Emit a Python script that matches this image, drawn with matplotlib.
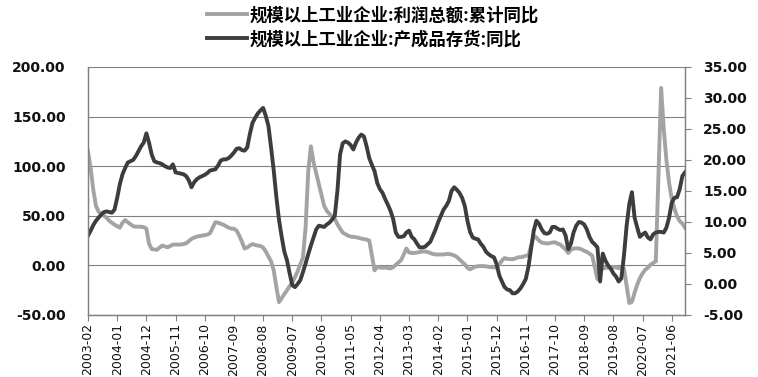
import numpy as np
import pandas as pd
import matplotlib
matplotlib.use('Agg')
import matplotlib.pyplot as plt
from matplotlib.ticker import FuncFormatter
from matplotlib.font_manager import FontProperties

# 规模以上工业企业:利润总额:累计同比 (left axis, %)
profit = [
    115, 98, 76, 60, 54, 52, 50, 48, 45, 43, 41, 39.5,
    38, 43, 45.7, 43.5, 41.5, 39.5, 39, 39, 39, 38.5, 37, 22,
    16.5, 16, 15.7, 18, 20, 19, 18.3, 19.5, 21, 21, 21, 21,
    21.5, 22.3, 24.5, 26.7, 28, 29, 29.5, 30, 30.5, 31, 32.5, 38,
    43.5, 43, 42, 41, 39.5, 38, 37, 37, 35, 30, 24, 17,
    18, 20, 21.5, 20.5, 20, 19.5, 18, 14, 9, 4, -5, -22,
    -37, -33, -29, -25, -21, -17, -12, -6, 1, 8, 38, 95,
    120, 104, 93, 82, 71, 60, 55, 52, 49, 47, 41.5, 37,
    33, 31.5, 30, 29, 28.7, 28.4, 27.8, 27, 26.5, 26, 25, 10,
    -5, -1.5, -2.2, -2.4, -2.2, -2.7, -3.1, -1.8, 0.5, 3, 5.3, 11,
    17, 13, 12.5, 12.5, 13, 13.5, 14, 14, 13.5, 12.5, 11.5, 11,
    11, 11, 11, 11.5, 11.5, 11, 10, 8.5, 6, 3.5, 1, -2.5,
    -4, -2.5, -1.3, -0.8, -0.7, -0.7, -1, -1.5, -1.8, -1.9, -2.3, 1,
    4.8, 7.4, 6.5, 6.4, 6.2, 6.9, 8.1, 8.4, 8.6, 9.8, 10, 20,
    30, 28, 25, 23, 22.5, 22, 22.5, 23, 23.3, 22, 21, 18.5,
    16, 12.5, 15.5, 17, 17.2, 17, 16.2, 14.7, 13.6, 11.8, 10, -2,
    -14, -3.3, -3.4, -2.3, -2.4, -1.7, -1.7, -2.1, -2.9, -2.1, -3.3, -21,
    -38, -36.7, -27.4, -19.3, -12.8, -8.1, -4.4, -2.4, 0.7, 2.4, 4.1, 92,
    178.9, 137.3, 106, 83.4, 66.9, 57.3, 49.5, 44.7, 42.2, 38,
]

# 规模以上工业企业:产成品存货:同比 (right axis, %)
inventory = [
    7.8, 8.6, 9.5, 10.2, 10.7, 11.2, 11.6, 11.7, 11.6, 11.5, 12.0, 13.9,
    16.1, 17.7, 18.7, 19.6, 19.8, 20.0, 20.6, 21.4, 22.2, 22.8, 24.3, 22.8,
    20.9, 19.8, 19.6, 19.5, 19.3, 19.0, 18.8, 18.7, 19.3, 18.0, 17.9, 17.8,
    17.7, 17.4, 16.7, 15.6, 16.4, 16.9, 17.2, 17.4, 17.6, 17.9, 18.3, 18.4,
    18.5, 19.1, 19.9, 20.1, 20.1, 20.3, 20.7, 21.2, 21.8, 21.9, 21.6, 21.5,
    22.0, 24.2, 26.0, 26.8, 27.5, 28.0, 28.4, 27.1, 25.5, 22.0, 18.3, 14.0,
    10.3, 7.6, 5.2, 3.8, 1.7, -0.2, -0.5, 0.0, 0.6, 1.9, 3.3, 4.8,
    6.2, 7.5, 8.8, 9.4, 9.3, 9.2, 9.6, 9.9, 10.4, 11.0, 15.0, 20.9,
    22.7, 23.0, 22.8, 22.4, 21.7, 22.8, 23.6, 24.1, 23.8, 22.2, 20.3, 19.2,
    18.2, 16.3, 15.3, 14.7, 13.7, 12.8, 11.8, 10.5, 8.3, 7.6, 7.6, 7.7,
    8.3, 8.6, 7.6, 7.2, 6.5, 5.9, 5.9, 6.0, 6.4, 6.8, 7.8, 8.8,
    10.0, 11.0, 12.0, 12.6, 13.4, 15.0, 15.6, 15.2, 14.7, 13.9, 12.6, 10.2,
    8.4, 7.5, 7.3, 7.2, 6.5, 6.0, 5.2, 4.8, 4.5, 4.3, 3.2, 1.4,
    0.4, -0.5, -0.9, -1.0, -1.5, -1.5, -1.2, -0.7, 0.0, 0.8, 2.8, 5.7,
    8.6, 10.2, 9.7, 8.8, 8.2, 8.1, 8.3, 9.2, 9.2, 8.9, 8.7, 8.8,
    7.8, 5.6, 6.5, 8.3, 9.4, 10.0, 9.9, 9.6, 8.8, 7.6, 6.8, 6.4,
    5.9, 0.4, 4.9, 3.8, 3.0, 2.5, 1.7, 1.2, 0.4, 0.9, 4.6, 9.4,
    12.9, 14.8, 10.7, 9.1, 7.6, 8.0, 8.3, 7.5, 7.2, 8.0, 8.3, 8.4,
    8.4, 8.3, 9.1, 10.7, 13.1, 13.9, 14.0, 15.3, 17.4, 18.0,
]

months = pd.period_range('2003-02', periods=len(profit), freq='M').strftime('%Y-%m')
labels = ['规模以上工业企业:利润总额:累计同比', '规模以上工业企业:产成品存货:同比']

plt.rcParams['font.family'] = ['DejaVu Sans']

fig = plt.figure(figsize=(7.58, 3.77), dpi=100)
ax = fig.add_axes([0.1161, 0.1645, 0.7876, 0.6578])
ax2 = ax.twinx()

x = np.arange(len(profit))
l1, = ax.plot(x, profit, color='#a3a3a3', lw=2.8, solid_joinstyle='round')
l2, = ax2.plot(x, inventory, color='#3d3d3d', lw=2.8, solid_joinstyle='round')

ax.set_xlim(0, len(profit) - 1)
ax.set_ylim(-50, 200)
ax.set_yticks(np.arange(-50, 201, 50))
ax2.set_ylim(-5, 35)
ax2.set_yticks(np.arange(-5, 36, 5))

fmt = FuncFormatter(lambda v, p: f'{v:.2f}')
ax.yaxis.set_major_formatter(fmt)
ax2.yaxis.set_major_formatter(fmt)

ax.set_xticks(x[::11])
ax.set_xticklabels(months[::11], rotation=90)

# grid only from left axis
ax.grid(axis='y', color='#808080', lw=0.8)
ax.set_axisbelow(True)

for a in (ax, ax2):
    a.spines['top'].set_visible(False)
    for s in ('left', 'right', 'bottom'):
        a.spines[s].set_color('#808080')
        a.spines[s].set_linewidth(0.9)

ax.tick_params(axis='y', length=0, pad=16, labelsize=10, labelcolor='#111111')
ax.tick_params(axis='x', length=4, width=0.8, color='#808080', pad=2,
               labelsize=9, labelcolor='#111111')
ax2.tick_params(axis='y', length=4, width=0.8, color='#808080', pad=9,
                labelsize=10, labelcolor='#111111')
for lab in ax.get_yticklabels() + ax2.get_yticklabels():
    lab.set_fontweight('bold')

# legend on top, two rows
fp = FontProperties(family=['Noto Sans CJK SC', 'DejaVu Sans'], weight='bold', size=12.5)
fig.legend([l1, l2], labels, loc='center', bbox_to_anchor=(0.492, 0.927),
           frameon=False, prop=fp, handlelength=2.3, handletextpad=0.15,
           labelspacing=0.35, borderpad=0)

fig.savefig('out.png', dpi=100)
